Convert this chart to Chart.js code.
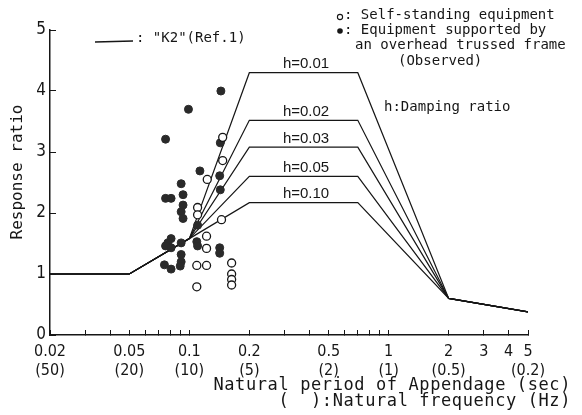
<!DOCTYPE html>
<html>
<head>
<meta charset="utf-8">
<script src="https://cdn.jsdelivr.net/npm/chart.js@4/dist/chart.umd.min.js"></script>
<style>
  html, body { margin: 0; padding: 0; background: #fff; }
  canvas { display: block; }
</style>
</head>
<body>
<canvas id="chart" width="582" height="415"></canvas>
<script>
// K2 design curves (Ref.1): break points in period (sec) and response ratio per damping
const curvePeriods = [0.02, 0.05, 0.1, 0.2, 0.7, 2, 5];
const curveH001 = [1.0, 1.0, 1.58, 4.3, 4.3, 0.6, 0.38];
const curveH002 = [1.0, 1.0, 1.58, 3.52, 3.52, 0.6, 0.38];
const curveH003 = [1.0, 1.0, 1.58, 3.08, 3.08, 0.6, 0.38];
const curveH005 = [1.0, 1.0, 1.58, 2.6, 2.6, 0.6, 0.38];
const curveH010 = [1.0, 1.0, 1.58, 2.17, 2.17, 0.6, 0.38];
const curveLabels = ['h=0.01', 'h=0.02', 'h=0.03', 'h=0.05', 'h=0.10'];

// Observed: self-standing equipment (open circles)
const standPeriod = [0.147, 0.147, 0.123, 0.110, 0.110, 0.145, 0.122, 0.122, 0.109, 0.122, 0.163, 0.163, 0.163, 0.163, 0.109];
const standRatio  = [3.24, 2.86, 2.55, 2.09, 1.97, 1.89, 1.62, 1.42, 1.14, 1.14, 1.18, 1.00, 0.91, 0.82, 0.79];

// Observed: equipment supported by an overhead trussed frame (filled circles)
const trussPeriod = [0.144, 0.099, 0.076, 0.143, 0.113, 0.142, 0.091, 0.143, 0.076, 0.081, 0.093, 0.093, 0.091, 0.093, 0.110,
                     0.081, 0.078, 0.076, 0.081, 0.091, 0.109, 0.110, 0.142, 0.142, 0.091, 0.091, 0.090, 0.075, 0.081];
const trussRatio  = [4.00, 3.70, 3.21, 3.15, 2.69, 2.61, 2.48, 2.38, 2.24, 2.24, 2.30, 2.13, 2.02, 1.91, 1.80,
                     1.58, 1.51, 1.46, 1.43, 1.51, 1.53, 1.46, 1.43, 1.34, 1.32, 1.20, 1.13, 1.15, 1.08];

// Axis ticks
const labelPeriods = [0.02, 0.05, 0.1, 0.2, 0.5, 1, 2, 3, 4, 5];
const periodLabels = ['0.02', '0.05', '0.1', '0.2', '0.5', '1', '2', '3', '4', '5'];
const freqLabels   = ['(50)', '(20)', '(10)', '(5)', '(2)', '(1)', '(0.5)', '', '', '(0.2)'];
const minorPeriods = [0.03, 0.04, 0.06, 0.07, 0.08, 0.09, 0.3, 0.4, 0.6, 0.7, 0.8, 0.9];
const ratioTicks   = [0, 1, 2, 3, 4, 5];

const MONO = "'DejaVu Sans Mono', 'Liberation Mono', monospace";
const NARROW = "'Liberation Sans Narrow', 'DejaVu Sans Condensed', 'Liberation Sans', sans-serif";
const INK = '#161616';

function toPoints(xs, ys) {
    return xs.map((x, i) => ({ x: x, y: ys[i] }));
}

const curves = [curveH001, curveH002, curveH003, curveH005, curveH010];

const lineSets = curves.map((vals, i) => ({
    label: curveLabels[i],
    data: toPoints(curvePeriods, vals),
    showLine: true,
    borderColor: INK,
    borderWidth: 1.2,
    pointRadius: 0,
    fill: false,
    order: 2
}));

// Draws legend, curve labels and axis titles
const annotations = {
    id: 'annotations',
    afterDraw(chart) {
        const ctx = chart.ctx;
        const x = chart.scales.x;
        const y = chart.scales.y;
        ctx.save();
        ctx.fillStyle = INK;
        ctx.strokeStyle = INK;

        // h labels sit on the plateau lines
        ctx.font = "15px 'Liberation Sans', Arial, sans-serif";
        ctx.textAlign = 'center';
        ctx.textBaseline = 'bottom';
        curves.forEach((vals, i) => {
            ctx.fillText(curveLabels[i], x.getPixelForValue(0.385), y.getPixelForValue(vals[3]) - 1);
        });

        // "K2" legend
        ctx.lineWidth = 1.3;
        ctx.beginPath();
        ctx.moveTo(95, 42);
        ctx.lineTo(133, 41);
        ctx.stroke();
        ctx.font = '14px ' + MONO;
        ctx.textAlign = 'left';
        ctx.textBaseline = 'middle';
        ctx.fillText(': "K2"(Ref.1)', 136, 38);

        // observed legend
        ctx.beginPath();
        ctx.arc(340, 17, 2.6, 0, Math.PI * 2);
        ctx.lineWidth = 1.1;
        ctx.stroke();
        ctx.fillText(': Self-standing equipment', 344, 15);
        ctx.beginPath();
        ctx.arc(340, 31, 2.8, 0, Math.PI * 2);
        ctx.fill();
        ctx.fillText(': Equipment supported by', 344, 30);
        ctx.fillText('an overhead trussed frame', 355, 45);
        ctx.fillText('(Observed)', 398, 61);
        ctx.fillText('h:Damping ratio', 384, 107);

        // y-axis title
        ctx.save();
        ctx.translate(18, 172);
        ctx.rotate(-Math.PI / 2);
        ctx.textAlign = 'center';
        ctx.font = '16px ' + MONO;
        ctx.fillText('Response ratio', 0, 0);
        ctx.restore();

        // x-axis title
        ctx.font = '17px ' + MONO;
        ctx.letterSpacing = '0.6px';
        ctx.textAlign = 'right';
        ctx.fillText('Natural period of Appendage (sec)', 571, 386);
        ctx.fillText('(  ):Natural frequency (Hz)', 571, 402);
        ctx.restore();
    }
};

new Chart(document.getElementById('chart').getContext('2d'), {
    type: 'scatter',
    data: {
        datasets: [
            {
                label: 'Self-standing equipment',
                data: toPoints(standPeriod, standRatio),
                pointRadius: 4,
                pointBorderWidth: 1.3,
                pointBorderColor: INK,
                pointBackgroundColor: '#fff',
                order: 0
            },
            {
                label: 'Equipment supported by an overhead trussed frame',
                data: toPoints(trussPeriod, trussRatio),
                pointRadius: 4,
                pointBorderWidth: 1,
                pointBorderColor: '#2a2a2a',
                pointBackgroundColor: '#2a2a2a',
                order: 1
            },
            ...lineSets
        ]
    },
    options: {
        responsive: false,
        animation: false,
        layout: { padding: { left: 0, top: 30, right: 54, bottom: 0 } },
        plugins: {
            legend: { display: false },
            tooltip: { enabled: false }
        },
        scales: {
            x: {
                type: 'logarithmic',
                min: 0.02,
                max: 5,
                afterBuildTicks: scale => {
                    scale.ticks = labelPeriods.concat(minorPeriods)
                        .sort((a, b) => a - b)
                        .map(v => ({ value: v }));
                },
                afterFit: scale => { scale.height = 80; },
                border: { color: INK, width: 1.5 },
                grid: { drawOnChartArea: false, drawTicks: true, tickLength: -5, color: INK, lineWidth: 1 },
                ticks: {
                    autoSkip: false,
                    maxRotation: 0,
                    padding: 12,
                    color: INK,
                    font: { family: NARROW, size: 16, lineHeight: 1.2 },
                    callback: value => {
                        const i = labelPeriods.indexOf(value);
                        if (i < 0) return '';
                        return freqLabels[i] ? [periodLabels[i], freqLabels[i]] : periodLabels[i];
                    }
                }
            },
            y: {
                min: 0,
                max: 5,
                afterBuildTicks: scale => {
                    scale.ticks = ratioTicks.map(v => ({ value: v }));
                },
                afterFit: scale => { scale.width = 50; },
                border: { color: INK, width: 1.5 },
                grid: { drawOnChartArea: false, drawTicks: true, tickLength: -6, color: INK, lineWidth: 1 },
                ticks: {
                    padding: 10,
                    color: INK,
                    font: { family: NARROW, size: 17 }
                }
            }
        }
    },
    plugins: [annotations]
});
</script>
</body>
</html>
